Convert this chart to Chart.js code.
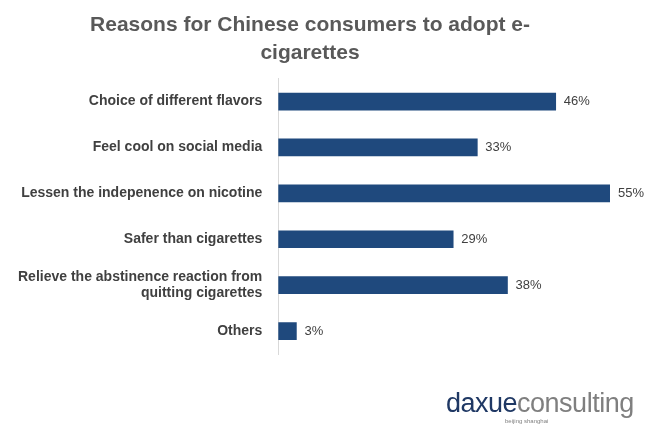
<!DOCTYPE html>
<html>
<head>
<meta charset="utf-8">
<script src="https://cdn.jsdelivr.net/npm/chart.js@4"></script>
<style>
  body { margin: 0; background: #fff; }
  #wrap { position: relative; width: 666px; height: 438px; }
  #logo { position: absolute; left: 446px; top: 388px; font-family: "Liberation Sans", Arial, sans-serif; font-size: 27px; letter-spacing: -0.5px; }
  #logo .d { color: #1f3864; }
  #logo .c { color: #7f7f7f; }
  #sub { position: absolute; left: 505px; top: 418px; font-family: "Liberation Sans", Arial, sans-serif; font-size: 6px; color: #7f7f7f; }
</style>
</head>
<body>
<div id="wrap">
  <canvas id="chart" width="666" height="438"></canvas>
  <div id="logo"><span class="d">daxue</span><span class="c">consulting</span></div>
  <div id="sub">beijing shanghai</div>
</div>
<script>
const categories = [
    "Choice of different flavors",
    "Feel cool on social media",
    "Lessen the indepenence on nicotine",
    "Safer than cigarettes",
    ["Relieve the abstinence reaction from", "quitting cigarettes"],
    "Others"
];
const shares = [46, 33, 55, 29, 38, 3];

const valueLabels = {
    id: 'valueLabels',
    afterDatasetsDraw(chart) {
        const ctx = chart.ctx;
        const meta = chart.getDatasetMeta(0);
        ctx.save();
        ctx.font = '13px "Liberation Sans", Arial, sans-serif';
        ctx.fillStyle = '#404040';
        ctx.textBaseline = 'middle';
        meta.data.forEach((bar, i) => {
            ctx.fillText(shares[i] + '%', bar.x + 8, bar.y);
        });
        ctx.restore();
    }
};

const ctx = document.getElementById("chart").getContext("2d");

new Chart(ctx, {
    type: 'bar',
    data: {
        labels: categories,
        datasets: [{
            data: shares,
            backgroundColor: '#1f497d',
            barThickness: 17
        }]
    },
    options: {
        indexAxis: 'y',
        responsive: false,
        animation: false,
        layout: { padding: { left: 10, right: 56, top: 0, bottom: 84 } },
        scales: {
            x: {
                min: 0,
                max: 55,
                display: false
            },
            y: {
                grid: { display: false },
                border: { color: '#d9d9d9' },
                ticks: {
                    color: '#404040',
                    font: { family: '"Liberation Sans", Arial, sans-serif', size: 14, weight: 'bold' },
                    padding: 8
                }
            }
        },
        plugins: {
            legend: { display: false },
            tooltip: { enabled: false },
            title: {
                display: true,
                text: ["Reasons for Chinese consumers to adopt e-", "cigarettes"],
                color: '#595959',
                font: { family: '"Liberation Sans", Arial, sans-serif', size: 21, weight: 'bold', lineHeight: 1.3 },
                padding: { top: 12, bottom: 12 }
            }
        }
    },
    plugins: [valueLabels]
});
</script>
</body>
</html>
